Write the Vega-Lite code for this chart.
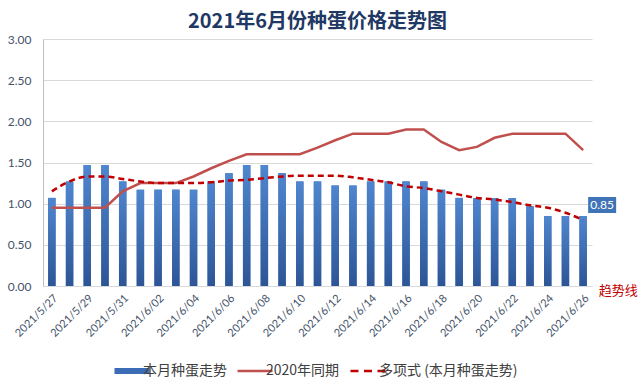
{
  "$schema": "https://vega.github.io/schema/vega-lite/v6.json",
  "width": 549,
  "height": 247,
  "autosize": {"type": "none"},
  "padding": {"left": 43, "top": 39, "right": 50, "bottom": 105},
  "background": "white",
  "title": {"text": "2021年6月份种蛋价格走势图", "fontSize": 20, "font": "Noto Sans CJK SC", "fontWeight": "bold", "color": "#1F3864", "anchor": "middle", "offset": 1},
  "config": {"view": {"stroke": null}, "font": "Noto Sans CJK SC"},
  "data": {"values": [
    {"date": "2021/5/27", "price": 1.07, "y2020": 0.95, "trend": 1.15},
    {"date": "2021/5/28", "price": 1.27, "y2020": 0.95, "trend": 1.27},
    {"date": "2021/5/29", "price": 1.47, "y2020": 0.95, "trend": 1.33},
    {"date": "2021/5/30", "price": 1.47, "y2020": 0.95, "trend": 1.33},
    {"date": "2021/5/31", "price": 1.27, "y2020": 1.15, "trend": 1.30},
    {"date": "2021/6/01", "price": 1.17, "y2020": 1.25, "trend": 1.27},
    {"date": "2021/6/02", "price": 1.17, "y2020": 1.25, "trend": 1.25},
    {"date": "2021/6/03", "price": 1.17, "y2020": 1.25, "trend": 1.25},
    {"date": "2021/6/04", "price": 1.17, "y2020": 1.33, "trend": 1.25},
    {"date": "2021/6/05", "price": 1.27, "y2020": 1.43, "trend": 1.26},
    {"date": "2021/6/06", "price": 1.37, "y2020": 1.52, "trend": 1.28},
    {"date": "2021/6/07", "price": 1.47, "y2020": 1.60, "trend": 1.29},
    {"date": "2021/6/08", "price": 1.47, "y2020": 1.60, "trend": 1.31},
    {"date": "2021/6/09", "price": 1.37, "y2020": 1.60, "trend": 1.33},
    {"date": "2021/6/10", "price": 1.27, "y2020": 1.60, "trend": 1.34},
    {"date": "2021/6/11", "price": 1.27, "y2020": 1.68, "trend": 1.34},
    {"date": "2021/6/12", "price": 1.22, "y2020": 1.77, "trend": 1.34},
    {"date": "2021/6/13", "price": 1.22, "y2020": 1.85, "trend": 1.32},
    {"date": "2021/6/14", "price": 1.27, "y2020": 1.85, "trend": 1.29},
    {"date": "2021/6/15", "price": 1.27, "y2020": 1.85, "trend": 1.26},
    {"date": "2021/6/16", "price": 1.27, "y2020": 1.90, "trend": 1.21},
    {"date": "2021/6/17", "price": 1.27, "y2020": 1.90, "trend": 1.19},
    {"date": "2021/6/18", "price": 1.17, "y2020": 1.75, "trend": 1.15},
    {"date": "2021/6/19", "price": 1.07, "y2020": 1.65, "trend": 1.11},
    {"date": "2021/6/20", "price": 1.07, "y2020": 1.69, "trend": 1.07},
    {"date": "2021/6/21", "price": 1.07, "y2020": 1.80, "trend": 1.05},
    {"date": "2021/6/22", "price": 1.07, "y2020": 1.85, "trend": 1.02},
    {"date": "2021/6/23", "price": 0.97, "y2020": 1.85, "trend": 0.98},
    {"date": "2021/6/24", "price": 0.85, "y2020": 1.85, "trend": 0.95},
    {"date": "2021/6/25", "price": 0.85, "y2020": 1.85, "trend": 0.89},
    {"date": "2021/6/26", "price": 0.85, "y2020": 1.65, "trend": 0.80}
  ]},
  "encoding": {
    "x": {
      "field": "date", "type": "ordinal", "sort": null,
      "scale": {"paddingInner": 0.58, "paddingOuter": 0.29},
      "axis": {
        "title": null,
        "values": ["2021/5/27", "2021/5/29", "2021/5/31", "2021/6/02", "2021/6/04", "2021/6/06", "2021/6/08", "2021/6/10", "2021/6/12", "2021/6/14", "2021/6/16", "2021/6/18", "2021/6/20", "2021/6/22", "2021/6/24", "2021/6/26"],
        "labelAngle": -45, "labelFont": "Lato", "labelFontSize": 11, "labelColor": "#44546A",
        "ticks": false, "domainColor": "#D9D9D9", "labelPadding": 6
      }
    }
  },
  "layer": [
    {
      "mark": {"type": "bar"},
      "encoding": {
        "y": {
          "field": "price", "type": "quantitative",
          "scale": {"domain": [0, 3], "nice": false},
          "axis": {"title": null, "values": [0, 0.5, 1, 1.5, 2, 2.5, 3], "format": ".2f", "labelColor": "#44546A", "labelFont": "Lato", "labelFontSize": 12, "ticks": false, "domainColor": "#BFBFBF", "gridColor": "#D9D9D9", "labelPadding": 12}
        },
        "color": {
          "datum": "本月种蛋走势", "type": "nominal",
          "scale": {"domain": ["本月种蛋走势", "2020年同期", "多项式 (本月种蛋走势)"], "range": ["#3A6DB5", "#C0504D", "#C00000"]},
          "legend": {
            "title": null, "orient": "none", "legendX": 82, "legendY": 325, "direction": "horizontal", "gridAlign": "none",
            "labelFont": "Noto Sans CJK SC", "labelFontSize": 14, "labelColor": "#404040",
            "symbolType": "stroke", "symbolSize": 1225, "symbolStrokeWidth": 2.5, "columnPadding": 5, "labelOffset": 4,
            "encode": {"symbols": {"update": {
              "strokeWidth": {"signal": "datum.value === '本月种蛋走势' ? 6 : 2.5"},
              "strokeDash": {"signal": "datum.value === '多项式 (本月种蛋走势)' ? [8, 5.5] : []"},
              "stroke": {"signal": "scale('color', datum.value)"},
              "opacity": {"value": 1}
            }}}
          }
        }
      }
    },
    {
      "mark": {"type": "bar", "fill": {"gradient": "linear", "x1": 0, "y1": 0, "x2": 0, "y2": 1, "stops": [{"offset": 0, "color": "#4F86CF"}, {"offset": 1, "color": "#2D5596"}]}},
      "encoding": {"y": {"field": "price", "type": "quantitative"}}
    },
    {
      "mark": {"type": "line", "strokeWidth": 2.5},
      "encoding": {"y": {"field": "y2020", "type": "quantitative"}, "color": {"datum": "2020年同期", "type": "nominal"}}
    },
    {
      "mark": {"type": "line", "strokeWidth": 2.5, "strokeDash": [6, 4], "interpolate": "monotone"},
      "encoding": {"y": {"field": "trend", "type": "quantitative"}, "color": {"datum": "多项式 (本月种蛋走势)", "type": "nominal"}}
    },
    {
      "transform": [{"filter": "datum.date === '2021/6/26'"}],
      "mark": {"type": "point", "shape": "M-1.75,-1H1.75V1H-1.75Z", "size": 256, "filled": true, "fill": "#3F74B6", "opacity": 1, "strokeWidth": 0, "xOffset": 19, "yOffset": -11},
      "encoding": {"y": {"field": "price", "type": "quantitative"}}
    },
    {
      "transform": [{"filter": "datum.date === '2021/6/26'"}],
      "mark": {"type": "text", "color": "white", "fontSize": 12, "font": "Lato", "dx": 19, "dy": -11},
      "encoding": {"y": {"field": "price", "type": "quantitative"}, "text": {"field": "price", "type": "quantitative", "format": ".2f"}}
    },
    {
      "transform": [{"filter": "datum.date === '2021/6/26'"}],
      "mark": {"type": "text", "text": "趋势线", "color": "#C00000", "fontSize": 13, "font": "Noto Sans CJK SC", "dx": 35, "dy": 5},
      "encoding": {"y": {"datum": 0, "type": "quantitative"}}
    }
  ]
}
